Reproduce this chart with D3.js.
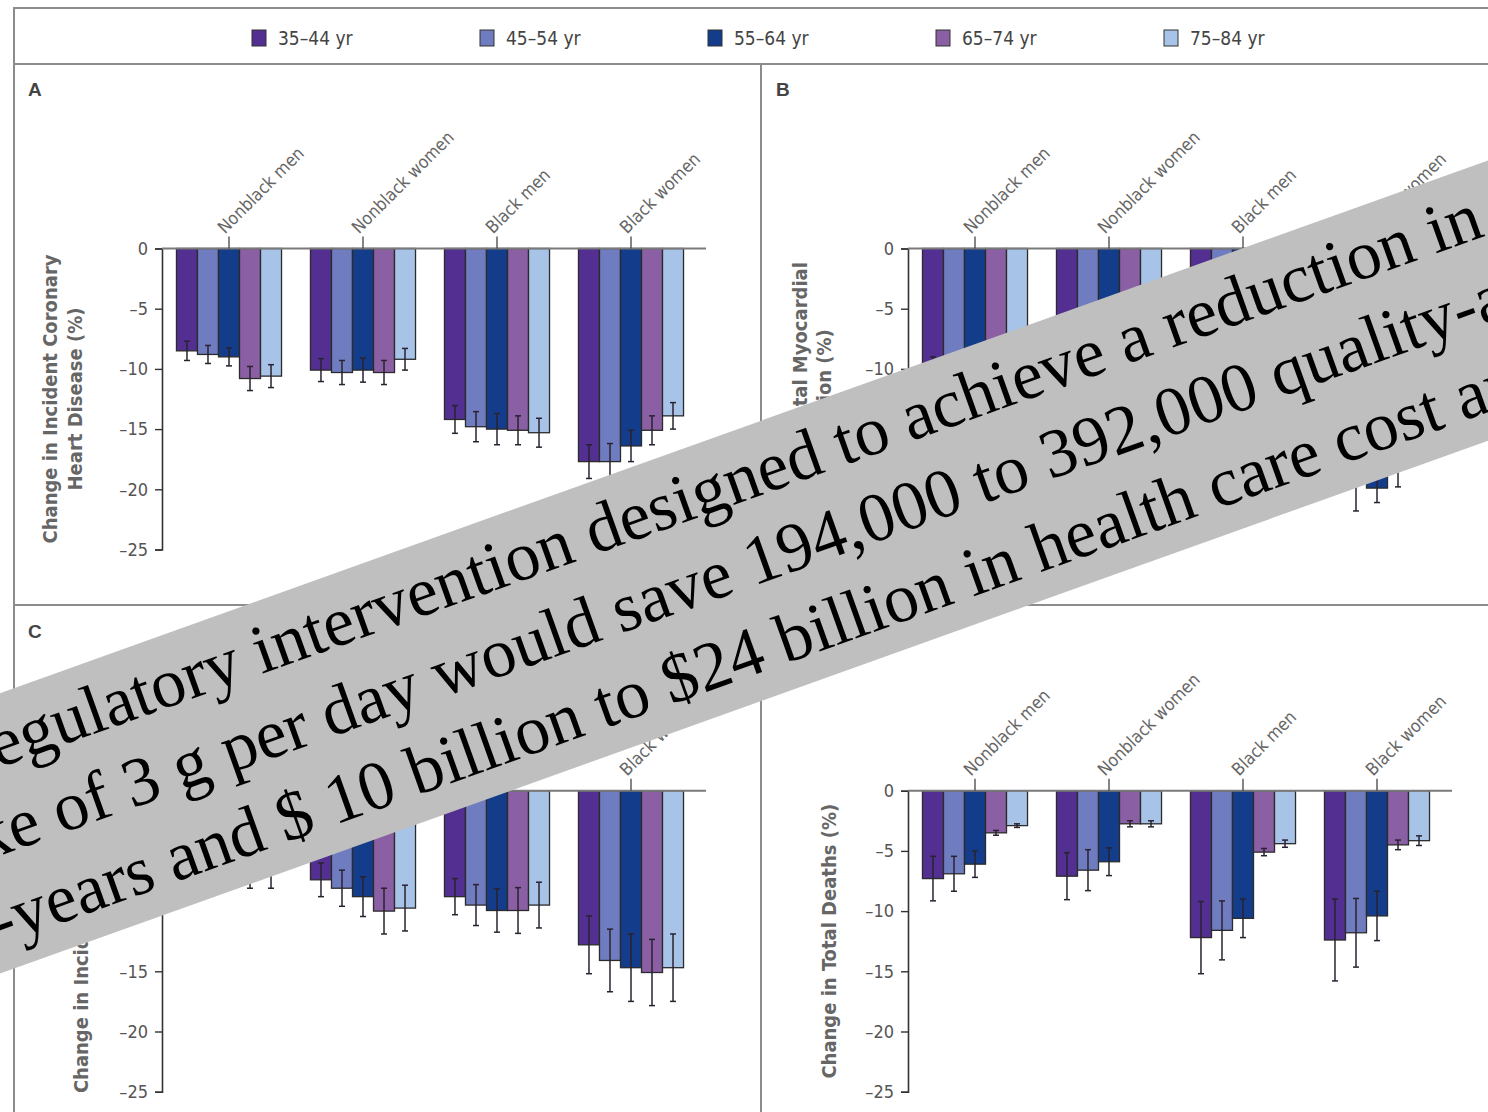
<!DOCTYPE html>
<html>
<head>
<meta charset="utf-8">
<script src="https://cdn.jsdelivr.net/npm/d3@7"></script>
<style>
  html, body { margin: 0; padding: 0; background: #ffffff; }
  svg { display: block; }
</style>
</head>
<body>
<svg id="chart" width="1488" height="1112"></svg>
<script>
// ---- data ----------------------------------------------------------------
const ageGroups   = ["35–44 yr", "45–54 yr", "55–64 yr", "65–74 yr", "75–84 yr"];
const populations = ["Nonblack men", "Nonblack women", "Black men", "Black women"];
const ageColors   = ["#522f91", "#6f7cbf", "#133d8b", "#8a5fa3", "#a7c4e8"];
const yTicks      = [0, -5, -10, -15, -20, -25];

// A: change in incident coronary heart disease (%), rows = populations, cols = age groups
const chdChange = [
  [-8.5, -8.8, -9.0, -10.8, -10.6],
  [-10.1, -10.3, -10.1, -10.3, -9.2],
  [-14.2, -14.8, -15.0, -15.1, -15.3],
  [-17.7, -17.7, -16.4, -15.1, -13.9]
];
const chdError = [
  [0.8, 0.75, 0.75, 1.0, 0.95],
  [0.95, 1.0, 1.0, 1.0, 0.9],
  [1.15, 1.25, 1.3, 1.2, 1.2],
  [1.4, 1.5, 1.3, 1.2, 1.1]
];

// B: change in total myocardial infarction (%)
const miChange = [
  [-9.9, -10.0, -10.2, -11.8, -11.5],
  [-11.0, -11.2, -11.0, -11.3, -10.1],
  [-15.6, -16.2, -16.4, -16.5, -16.7],
  [-18.0, -19.0, -19.9, -18.0, -15.5]
];
const miError = [
  [0.9, 0.85, 0.85, 1.1, 1.05],
  [1.05, 1.1, 1.1, 1.1, 1.0],
  [1.3, 1.4, 1.4, 1.3, 1.3],
  [1.4, 2.8, 1.2, 1.8, 1.3]
];

// C: change in incident stroke (%)
const strokeChange = [
  [-5.0, -4.9, -4.6, -6.6, -6.6],
  [-7.4, -8.1, -8.8, -10.0, -9.75],
  [-8.8, -9.5, -9.95, -9.95, -9.5],
  [-12.8, -14.1, -14.7, -15.1, -14.7]
];
const strokeError = [
  [1.2, 1.1, 0.9, 1.5, 1.5],
  [1.4, 1.5, 1.65, 1.9, 1.9],
  [1.5, 1.7, 1.8, 1.9, 1.9],
  [2.4, 2.6, 2.8, 2.75, 2.8]
];

// D: change in total deaths (%)
const deathChange = [
  [-7.3, -6.9, -6.1, -3.5, -2.9],
  [-7.1, -6.6, -5.9, -2.75, -2.75],
  [-12.2, -11.6, -10.6, -5.1, -4.4],
  [-12.4, -11.8, -10.4, -4.5, -4.15]
];
const deathError = [
  [1.85, 1.45, 1.1, 0.2, 0.15],
  [1.95, 1.7, 1.15, 0.25, 0.25],
  [3.0, 2.45, 1.6, 0.3, 0.3],
  [3.4, 2.85, 2.05, 0.4, 0.4]
];

const banner = [
  "A regulatory intervention designed to achieve a reduction in salt",
  "intake of 3 g per day would save 194,000 to 392,000 quality-adjusted",
  "life-years and $ 10 billion to $24 billion in health care cost annually."
];

// ---- drawing ---------------------------------------------------------------
const svg = d3.select("#chart");
const narrow = "'Liberation Sans Narrow', 'DejaVu Sans Condensed', 'Roboto Condensed', 'Open Sans', sans-serif";
const frameColor = "#8c8c8c";

svg.append("rect").attr("width", 1488).attr("height", 1112).attr("fill", "#ffffff");

// figure frame and panel dividers
const frame = svg.append("g").attr("stroke", frameColor).attr("stroke-width", 2).attr("fill", "none");
frame.append("path").attr("d", "M14,1112 V8 H1500");
frame.append("line").attr("x1", 14).attr("x2", 1500).attr("y1", 64).attr("y2", 64);
frame.append("line").attr("x1", 14).attr("x2", 1500).attr("y1", 605).attr("y2", 605);
frame.append("line").attr("x1", 761).attr("x2", 761).attr("y1", 64).attr("y2", 1112);

// legend
const legend = svg.append("g").attr("class", "legend");
const legendX = d3.scalePoint().domain(ageGroups).range([252, 1164]);
ageGroups.forEach((g, i) => {
  const item = legend.append("g").attr("transform", `translate(${legendX(g)},30)`);
  item.append("rect").attr("width", 14).attr("height", 16)
    .attr("fill", ageColors[i]).attr("stroke", "#333").attr("stroke-width", 1);
  item.append("text").attr("x", 26).attr("y", 15)
    .attr("font-family", narrow).attr("font-size", 19).attr("fill", "#444")
    .text(g);
});

const panels = [
  { letter: "A", lx: 28,  ly: 96,  axisX: 162, zeroY: 248.5, values: chdChange,    errors: chdError,
    title: ["Change in Incident Coronary", "Heart Disease (%)"], titleX: [57, 82] },
  { letter: "B", lx: 776, ly: 96,  axisX: 908, zeroY: 248.5, values: miChange,     errors: miError,
    title: ["Change in Total Myocardial", "Infarction (%)"], titleX: [807, 831] },
  { letter: "C", lx: 28,  ly: 638, axisX: 162, zeroY: 790.7, values: strokeChange, errors: strokeError,
    title: ["Change in Incident Stroke (%)"], titleX: [88] },
  { letter: "D", lx: 776, ly: 638, axisX: 908, zeroY: 790.7, values: deathChange,  errors: deathError,
    title: ["Change in Total Deaths (%)"], titleX: [836] }
];

panels.forEach(p => {
  const g = svg.append("g").attr("class", "panel-" + p.letter);

  const y = d3.scaleLinear().domain([0, -25]).range([p.zeroY, p.zeroY + 301]);
  const x0 = d3.scaleBand().domain(populations)
    .range([p.axisX, p.axisX + 536]).paddingInner(0.216).paddingOuter(0.108);
  const x1 = d3.scaleBand().domain(ageGroups).range([0, x0.bandwidth()]);

  // panel letter
  g.append("text").attr("x", p.lx).attr("y", p.ly)
    .attr("font-family", "'Liberation Sans', Arial, sans-serif").attr("font-weight", "bold")
    .attr("font-size", 19).attr("fill", "#444").text(p.letter);

  // y axis title
  const yMid = (y(0) + y(-25)) / 2;
  p.title.forEach((t, i) => {
    g.append("text")
      .attr("transform", `translate(${p.titleX[i]},${yMid}) rotate(-90)`)
      .attr("text-anchor", "middle")
      .attr("font-family", narrow).attr("font-weight", "bold")
      .attr("font-size", 20).attr("fill", "#666").text(t);
  });

  // y axis
  const yAxis = d3.axisLeft(y).tickValues(yTicks).tickSize(7).tickPadding(7)
    .tickFormat(d => d === 0 ? "0" : "–" + Math.abs(d));
  const ax = g.append("g").attr("transform", `translate(${p.axisX},0)`).call(yAxis);
  ax.select(".domain").attr("stroke", "#333").attr("stroke-width", 1.6);
  ax.selectAll(".tick line").attr("stroke", "#333").attr("stroke-width", 1.4);
  ax.selectAll(".tick text").attr("font-family", narrow).attr("font-size", 18).attr("fill", "#555");

  // bars
  populations.forEach((pop, pi) => {
    const grp = g.append("g").attr("transform", `translate(${x0(pop)},0)`);
    grp.selectAll("rect").data(p.values[pi]).join("rect")
      .attr("x", (d, i) => x1(ageGroups[i]))
      .attr("y", y(0))
      .attr("width", x1.bandwidth())
      .attr("height", d => y(d) - y(0))
      .attr("fill", (d, i) => ageColors[i])
      .attr("stroke", "#2b2b2b").attr("stroke-width", 1.3);

    // error bars
    const eb = grp.selectAll("g.err").data(p.values[pi]).join("g").attr("class", "err")
      .attr("transform", (d, i) => `translate(${x1(ageGroups[i]) + x1.bandwidth() / 2},0)`)
      .attr("stroke", "#2a2230").attr("stroke-width", 1.5);
    eb.append("line").attr("y1", (d, i) => y(d + p.errors[pi][i])).attr("y2", (d, i) => y(d - p.errors[pi][i]));
    eb.append("line").attr("x1", -3).attr("x2", 3)
      .attr("y1", (d, i) => y(d + p.errors[pi][i])).attr("y2", (d, i) => y(d + p.errors[pi][i]));
    eb.append("line").attr("x1", -3).attr("x2", 3)
      .attr("y1", (d, i) => y(d - p.errors[pi][i])).attr("y2", (d, i) => y(d - p.errors[pi][i]));
  });

  // zero line
  g.append("line").attr("x1", p.axisX).attr("x2", p.axisX + 544)
    .attr("y1", y(0)).attr("y2", y(0)).attr("stroke", "#7a7a7a").attr("stroke-width", 2);

  // population labels with short ticks
  populations.forEach(pop => {
    const cx = x0(pop) + x0.bandwidth() / 2;
    g.append("line").attr("x1", cx).attr("x2", cx).attr("y1", y(0)).attr("y2", y(0) - 12)
      .attr("stroke", "#444").attr("stroke-width", 1.3);
    g.append("text")
      .attr("transform", `translate(${cx - 4},${y(0) - 14}) rotate(-45)`)
      .attr("font-family", narrow).attr("font-size", 17.5).attr("fill", "#666")
      .text(pop);
  });
});

// gray banner with the headline statement
const band = svg.append("g").attr("transform", "translate(744,567) rotate(-19.7)");
band.append("rect").attr("x", -1400).attr("y", -132).attr("width", 2800).attr("height", 264)
  .attr("fill", "#bfbfbf");
const bannerX = [-857, -920, -922];
const bannerY = [-62, 21, 105];
banner.forEach((t, i) => {
  band.append("text").attr("x", bannerX[i]).attr("y", bannerY[i])
    .attr("font-family", "'Liberation Serif', 'Times New Roman', serif")
    .attr("font-size", 69.5).attr("fill", "#000").text(t);
});
</script>
</body>
</html>
